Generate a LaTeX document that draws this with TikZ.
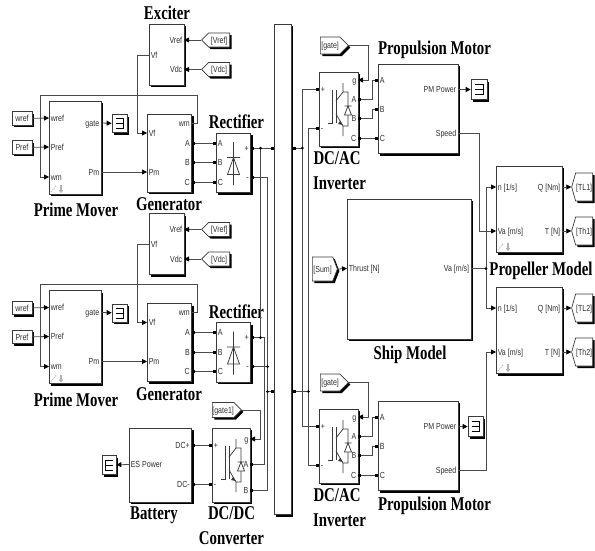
\documentclass[tikz,border=0pt]{standalone}
\usepackage{fontspec}
\setmainfont{Liberation Sans}
\newfontfamily\ttlf[FakeStretch=.76]{Liberation Serif}
\newfontfamily\plf[FakeStretch=.8]{Liberation Sans}
\usetikzlibrary{arrows.meta,shadows,shapes.symbols,calc}
\definecolor{wirec}{HTML}{4A4A4A}
\definecolor{edgec}{HTML}{3A3A3A}
\definecolor{labc}{HTML}{303030}
\tikzset{
  shd/.style={general shadow={shadow xshift=2pt,shadow yshift=-2pt,fill=black}},
  blockbox/.style={shape=rectangle,draw=edgec,line width=.7pt,fill=white,inner sep=0pt,shd},
  plab/.style={font=\plf\fontsize{8.8}{9}\selectfont,text=labc,inner sep=1.6pt,text height=6pt,text depth=0pt},
  pl/.style={plab,anchor=west},
  pr/.style={plab,anchor=east},
  ttl/.style={font=\ttlf\bfseries\fontsize{19.5}{20}\selectfont,text=black,inner sep=0pt},
  srcbox/.style={blockbox,minimum width=20pt,minimum height=13.5pt,font=\plf\fontsize{8.8}{9}\selectfont,text=labc},
  fromw/.style={shape=signal,signal to=west,signal pointer angle=90,draw=edgec,line width=.7pt,fill=white,inner sep=0pt,shd,font=\plf\fontsize{8.8}{9}\selectfont,text=labc,text height=6pt,text depth=0pt},
  frome/.style={fromw,signal to=east},
  sig/.style={draw=wirec,line width=.8pt,-{Triangle[length=5pt,width=5pt,color=black]}},
  wire/.style={draw=wirec,line width=.8pt},
  phys/.style={wire,{Square[length=2.8pt,width=2.8pt,color=black]}-{Square[length=2.8pt,width=2.8pt,color=black]}},
  phyE/.style={wire,-{Square[length=2.8pt,width=2.8pt,color=black]}},
  phyS/.style={wire,{Square[length=2.8pt,width=2.8pt,color=black]}-},
  jdot/.style={circle,fill=black,inner sep=0pt,minimum size=3pt},
  icon/.style={draw=edgec,line width=.75pt},
}
\newcommand{\blk}[6][]{\node[blockbox,minimum width=#5pt-#3pt,minimum height=#6pt-#4pt,#1] (#2) at ({(#3+#5)/2},{(#4+#6)/2}) {};}
\newcommand{\scp}[6]{\node[blockbox,minimum width=#4pt,minimum height=#5pt] (#1) at (#2,#3) {};
  \draw[line width=.8pt,draw=black,shift={(#2,#3)},xscale=#6] (-4,-5) -- (4,-5) -- (4,5) -- (-4,5) (-4,0) -- (4,0);}
\newcommand{\igbt}[2]{\begin{scope}[shift={(#1,#2)}]
  \draw[icon] (9,51) -- (13,51) -- (13,18) (17,18) -- (17,51);
  \draw[icon] (24,11) -- (24,20) -- (17,29) (24,20) -- (29,20) -- (29,34);
  \draw[icon] (17,42) -- (24,54) -- (24,64) (24,54) -- (29,54) -- (29,43);
  \draw[icon] (25.5,34) -- (32.5,34) (29,34) -- (25.5,43) -- (32.5,43) -- cycle;
  \fill[edgec] (21,49) -- (24,53) -- (19,52) -- cycle;
\end{scope}}
\newcommand{\lnkmark}[2]{\draw[gray!60,line width=.8pt,dash pattern=on 1.2pt off 1pt] (#1,#2+3) -- (#1+5,#2-3);
  \draw[gray!60,line width=1.2pt,-{Triangle[length=3pt,width=4.5pt]}] (#1+10,#2-4) -- (#1+10,#2+4);}
\begin{document}
\begin{tikzpicture}[x=1pt,y=-1pt]
\useasboundingbox (0,0) rectangle (595,550);
% ---- central bar
\blk{bar}{274}{24}{291}{514.5}
\coordinate (barLa) at (274,148);
\coordinate (barLb) at (274,391.5);
\coordinate (barRa) at (293,148);
\coordinate (barRb) at (293,391.5);

% ---- two generator sets
\foreach \s/\d in {1/0,2/189.5}{
\begin{scope}[yshift=-\d pt]
  \blk{ex\s}{149}{24}{184}{85}
  \node[pl] (exvf\s) at (149,55) {Vf};
  \node[pr] (exvr\s) at (184,40) {Vref};
  \node[pr] (exvd\s) at (184,69.5) {Vdc};
  \node[fromw,minimum height=14pt,minimum width=28pt,anchor=east] (fvr\s) at (230,40) {[Vref]};
  \node[fromw,minimum height=14pt,minimum width=28pt,anchor=east] (fvd\s) at (230,69.5) {[Vdc]};
  \draw[sig] (fvr\s.west) -- (exvr\s.east);
  \draw[sig] (fvd\s.west) -- (exvd\s.east);

  \blk{pm\s}{49}{101}{101}{194}
  \node[pl] (pmw\s) at (49,118) {wref};
  \node[pl] (pmp\s) at (49,147) {Pref};
  \node[pl] (pmm\s) at (49,177) {wm};
  \node[pr] (pmg\s) at (101,123) {gate};
  \node[pr] (pmo\s) at (101,172) {Pm};
  \node[srcbox] (wr\s) at (22,118.5) {wref};
  \node[srcbox] (pr\s) at (22,147.5) {Pref};
  \draw[sig] (wr\s) -- (pmw\s.west);
  \draw[sig] (pr\s) -- (pmp\s.west);
  \scp{sc\s}{119.5}{123.5}{15}{18}{1}
  \draw[sig] (pmg\s.east) -- (sc\s);
  \lnkmark{51}{189}

  \blk{gen\s}{147}{114}{191.5}{192}
  \node[pl] (gvf\s) at (147,133) {Vf};
  \node[pl] (gpm\s) at (147,172) {Pm};
  \node[pr] (gwm\s) at (191.5,123) {wm};
  \node[pr] (ga\s) at (191.5,143) {A};
  \node[pr] (gb\s) at (191.5,162.5) {B};
  \node[pr] (gc\s) at (191.5,182) {C};
  \draw[sig] (pmo\s.east) -- (gpm\s.west);
  \coordinate (fb\s) at (40.5,95);
  \draw[sig] (gwm\s.east) -- ++(6,0) |- (fb\s) |- (pmm\s.west);
  \draw[sig] (exvf\s.west) -- ++(-12,0) |- (gvf\s.west);

  \blk{rc\s}{216}{133}{250.5}{192.5}
  \node[pl] (ra\s) at (216,143) {A};
  \node[pl] (rb\s) at (216,162.5) {B};
  \node[pl] (rcc\s) at (216,182) {C};
  \node[pr] (rp\s) at (250.5,148) {+};
  \node[pr] (rm\s) at (250.5,177) {-};
  \draw[phys] (ga\s.east) -- (ra\s.west);
  \draw[phys] (gb\s.east) -- (rb\s.west);
  \draw[phys] (gc\s.east) -- (rcc\s.west);
  \draw[icon] (233.5,142) -- (233.5,185) (227,157.5) -- (240,157.5) (233.5,157.5) -- (227.5,174.5) -- (239.5,174.5) -- cycle;

  \node[ttl] at (76,210) {Prime Mover};
  \node[ttl] at (169,204.5) {Generator};
  \node[ttl] at (236.5,122) {Rectifier};
\end{scope}
}
\node[ttl] at (167,13) {Exciter};

% ---- battery and DC/DC
\blk{bat}{129}{428}{191.5}{502}
\node[pr] (bp) at (191.5,445) {DC+};
\node[pr] (bm) at (191.5,484) {DC-};
\node[pl] (bes) at (129,464.5) {ES Power};
\scp{scb}{109}{465}{14}{19}{-1}
\draw[sig] (bes.west) -- (scb);
\blk{dc}{212}{428}{250}{502}
\node[pl] (dp) at (212,445) {+};
\node[pl] (dm) at (212,484) {-};
\node[pr] (dg) at (250,439) {g};
\node[pr] (da) at (250,464) {A};
\node[pr] (db) at (250,490) {B};
\draw[phys] (bp.east) -- (dp.west);
\draw[phys] (bm.east) -- (dm.west);
\igbt{212}{428}
\node[frome,minimum height=15pt,minimum width=29pt,anchor=west] (fg1) at (212,410) {[gate1]};
\draw[sig] (fg1.east) -- ++(19,0) |- (dg.east);
\node[ttl] at (154,515) {Battery};
\node[ttl] at (231.5,513) {DC/DC};
\node[ttl] at (231.5,538) {Converter};

% ---- left bus
\coordinate (jp1) at (260.5,148);
\coordinate (jp2) at (260.5,337.5);
\coordinate (jm2) at (267.5,366.5);
\coordinate (jbl) at (267.5,391.5);
\draw[phys] (rp1.east) -- (barLa);
\draw[wire] (jp1) -- (jp2);
\draw[phys] (rp2.east) -- ++(13.5,0) |- (da.east);
\draw[phys] (rm1.east) -- ++(17,0) |- (db.east);
\draw[phyS] (rm2.east) -- (jm2);
\draw[phyE] (jbl) -- (barLb);
\node[jdot] at (jp1) {};
\node[jdot] at (jp2) {};
\node[jdot] at (jm2) {};
\node[jdot] at (jbl) {};

% ---- two inverters and motors
\foreach \s/\d in {1/0,2/337}{
\begin{scope}[yshift=-\d pt]
  \blk{inv\s}{319}{72}{358}{146}
  \node[pl] (ip\s) at (319,89) {+};
  \node[pl] (im\s) at (319,128) {-};
  \node[pr] (ig\s) at (358,80) {g};
  \node[pr] (ia\s) at (358,99) {A};
  \node[pr] (ib\s) at (358,118.5) {B};
  \node[pr] (ic\s) at (358,138) {C};
  \igbt{319}{72}
  \node[frome,minimum height=17pt,minimum width=28pt,anchor=west] (fg\s g) at (320,45.5) {[gate]};
  \draw[sig] (fg\s g.east) -- ++(20,0) |- (ig\s.east);

  \blk{mot\s}{378}{64}{458}{153.5}
  \node[pl] (ma\s) at (378,80) {A};
  \node[pl] (mb\s) at (378,109) {B};
  \node[pl] (mc\s) at (378,138) {C};
  \node[pr] (mpw\s) at (458,89.5) {PM Power};
  \node[pr] (msp\s) at (458,133) {Speed};
  \draw[phys] (ia\s.east) -- ++(14,0) |- (ma\s.west);
  \draw[phys] (ib\s.east) -- ++(14,0) |- (mb\s.west);
  \draw[phys] (ic\s.east) -- (mc\s.west);
  \node[ttl] at (337,158) {DC/AC};
  \node[ttl] at (339.5,183.5) {Inverter};
\end{scope}
}
\scp{scm1}{479}{89.5}{16}{20}{1}
\scp{scm2}{475.5}{426.5}{15}{20}{1}
\draw[sig] (mpw1.east) -- (scm1);
\draw[sig] (mpw2.east) -- (scm2);
\node[ttl] at (434.5,50) {Propulsion Motor};
\node[ttl] at (434.5,505.5) {Propulsion Motor};

% ---- right bus
\coordinate (jra) at (302.3,148);
\coordinate (jrb) at (308.3,391.5);
\draw[phyS] (barRa) -- (jra);
\draw[phyE] (jra) |- (ip1.west);
\draw[phyE] (jra) |- (ip2.west);
\draw[phyS] (barRb) -- (jrb);
\draw[phyE] (jrb) |- (im1.west);
\draw[phyE] (jrb) |- (im2.west);
\node[jdot] at (jra) {};
\node[jdot] at (jrb) {};

% ---- ship
\blk{ship}{347}{199}{471}{339}
\node[pl] (sth) at (347,268.5) {Thrust [N]};
\node[pr] (sva) at (471,268.5) {Va [m/s]};
\node[frome,signal pointer angle=138,minimum height=24pt,minimum width=25pt,anchor=west] (fsum) at (312,269) {[Sum]};
\draw[sig] (fsum.east) -- (sth.west);
\node[ttl] at (410,355) {Ship Model};

% ---- propellers
\foreach \s/\d/\q/\t in {1/0/TL1/Th1,2/121/TL2/Th2}{
\begin{scope}[yshift=-\d pt]
  \blk{pp\s}{496}{166}{562}{252.5}
  \node[pl] (pn\s) at (496,187) {n [1/s]};
  \node[pl] (pv\s) at (496,231) {Va [m/s]};
  \node[pr] (pq\s) at (562,187) {Q [Nm]};
  \node[pr] (pt\s) at (562,231) {T [N]};
  \node[fromw,signal pointer angle=148,minimum height=28pt,minimum width=21pt,anchor=east] (gq\s) at (593,187) {[\q]};
  \node[fromw,signal pointer angle=148,minimum height=28pt,minimum width=21pt,anchor=east] (gt\s) at (593,231) {[\t]};
  \draw[sig] (pq\s.east) -- (gq\s.west);
  \draw[sig] (pt\s.east) -- (gt\s.west);
  \lnkmark{498}{247}
\end{scope}
}
\node[ttl] at (541,270.5) {Propeller Model};
\coordinate (jva) at (486,268.5);
\draw[wire] (sva.east) -- (jva);
\draw[sig] (jva) |- (pn1.west);
\draw[sig] (jva) |- (pn2.west);
\node[jdot] at (jva) {};
\draw[sig] (msp1.east) -- ++(21,0) |- (pv1.west);
\draw[sig] (msp2.east) -- ++(28,0) |- (pv2.west);
\end{tikzpicture}
\end{document}
